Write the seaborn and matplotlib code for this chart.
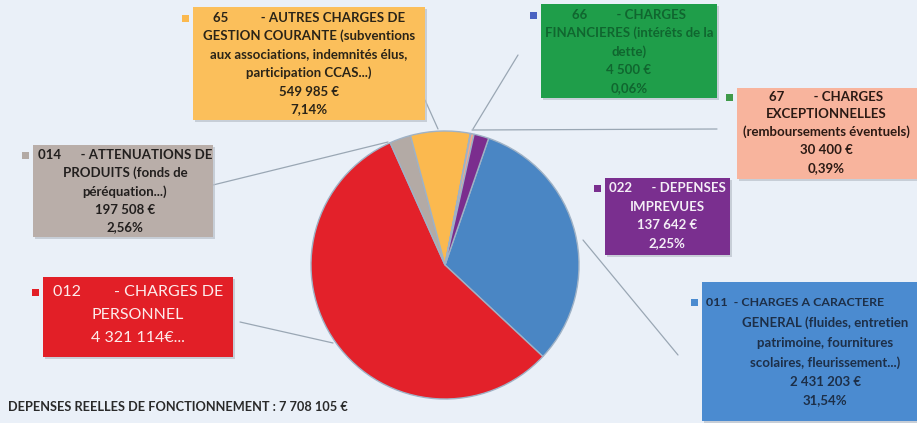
import matplotlib
matplotlib.use("Agg")
import matplotlib.pyplot as plt
import seaborn as sns
from matplotlib.patches import Rectangle

# ---------------- data ----------------
codes = ["011", "012", "014", "65", "66", "67", "022"]
amounts = [2431203, 4321114, 197508, 549985, 4500, 30400, 137642]
amount_labels = ["2 431 203 €", "4 321 114€...", "197 508 €", "549 985 €",
                 "4 500 €", "30 400 €", "137 642 €"]
pct_labels = ["31,54%", "", "2,56%", "7,14%", "0,06%", "0,39%", "2,25%"]
label_lines = [
    ["- CHARGES A CARACTERE", "GENERAL (fluides, entretien", "patrimoine, fournitures",
     "scolaires, fleurissement...)"],
    ["- CHARGES DE", "PERSONNEL"],
    ["- ATTENUATIONS DE", "PRODUITS (fonds de", "péréquation...)"],
    ["- AUTRES CHARGES DE", "GESTION COURANTE (subventions", "aux associations, indemnités élus,",
     "participation CCAS...)"],
    ["- CHARGES", "FINANCIERES (intérêts de la", "dette)"],
    ["- CHARGES", "EXCEPTIONNELLES", "(remboursements éventuels)"],
    ["- DEPENSES", "IMPREVUES"],
]
slice_colors = ["#4a86c4", "#e3212a", "#b3aaa5", "#fbb94f", "#1f9b47", "#f6a98a", "#7b2d8e"]
total_label = "DEPENSES REELLES DE FONCTIONNEMENT : 7 708 105 €"

# ---------------- layout (pixel coords, y from top) ----------------
W, H = 917, 423
box_rect = {  # x0, y0, x1, y1
    "011": (702, 282, 930, 421),
    "012": (43, 277, 233, 357),
    "014": (33, 145, 213, 237),
    "65": (193, 7, 425, 120),
    "66": (541, 4, 717, 98),
    "67": (737, 88, 930, 179),
    "022": (605, 178, 730, 255),
}
box_colors = {"011": "#4b8bd0", "012": "#e21f27", "014": "#b9aea9", "65": "#fbbf5b",
              "66": "#1f9e4a", "67": "#f8b49d", "022": "#7a2f8f"}
marker_colors = {"011": "#4b8bd0", "012": "#e21f27", "014": "#b3aaa5", "65": "#fbb94f",
                 "66": "#4a62c2", "67": "#3f9a4a", "022": "#7a2f8f"}
text_colors = {"011": "#1d2f48", "012": "#fdecec", "014": "#221f1e", "65": "#2a2418",
               "66": "#10662f", "67": "#2b1a14", "022": "#f4eef6"}
line_y = {
    "011": [302, 323, 343, 363, 382, 400],
    "012": [292, 315, 338],
    "014": [155, 173, 192, 210, 227],
    "65": [18, 36, 54, 73, 92, 109],
    "66": [15, 33, 52, 70, 88],
    "67": [97, 114, 132, 150, 168],
    "022": [188, 207, 225, 243],
}
center_x = {"011": 825, "012": 138, "014": 125, "65": 309, "66": 629, "67": 826, "022": 667}
font_size = {"011": 9.5, "012": 11.5, "014": 9.5, "65": 9.5, "66": 9.5, "67": 9.5, "022": 9.5}
font_weight = {"011": "bold", "012": "normal", "014": "bold", "65": "bold", "66": "bold",
               "67": "bold", "022": "bold"}
code_gap = {"011": "  ", "012": "        ", "014": "      ", "65": "          ",
            "66": "         ", "67": "         ", "022": "      "}

leaders = {  # (box point), (pie point)
    "65": ((425, 100), (438, 129)),
    "66": ((518, 55), (473, 129)),
    "67": ((717, 129), (472, 130)),
    "014": ((213, 185), (388, 142)),
    "012": ((240, 322), (333, 343)),
    "011": ((678, 355), (583, 240)),
}

def Y(y):
    return H - y

sns.set_theme(style="white")
plt.rcParams["font.family"] = ["Lato", "DejaVu Sans"]

fig = plt.figure(figsize=(W / 100, H / 100), dpi=100)
bg = "#eaf0f8"
fig.patch.set_facecolor(bg)
ax = fig.add_axes([0, 0, 1, 1])
ax.set_facecolor(bg)

palette = sns.color_palette(slice_colors)
ax.pie(amounts, colors=palette, startangle=71, counterclock=False,
       center=(445, Y(265)), radius=134,
       wedgeprops=dict(edgecolor="#9fb2c6", linewidth=1.0))

# leader lines
for code, (p0, p1) in leaders.items():
    ax.plot([p0[0], p1[0]], [Y(p0[1]), Y(p1[1])], color="#9aa7b4", lw=0.9,
            zorder=1, solid_capstyle="round")

# boxes and texts
for i, code in enumerate(codes):
    x0, y0, x1, y1 = box_rect[code]
    ax.add_patch(Rectangle((x0 + 2, Y(y1) - 2), x1 - x0, y1 - y0, facecolor="#b9c0c9",
                           edgecolor="none", zorder=2, alpha=0.7))
    ax.add_patch(Rectangle((x0, Y(y1)), x1 - x0, y1 - y0, facecolor=box_colors[code],
                           edgecolor="none", zorder=3))
    ax.add_patch(Rectangle((x0 - 11, Y(line_y[code][0]) - 3.5), 7, 7,
                           facecolor=marker_colors[code], edgecolor="none", zorder=3))
    lines = [code + code_gap[code] + label_lines[i][0]] + label_lines[i][1:]
    lines.append(amount_labels[i])
    if pct_labels[i]:
        lines.append(pct_labels[i])
    for k, (txt, yy) in enumerate(zip(lines, line_y[code])):
        if code == "011" and k == 0:
            ax.text(x0 + 4, Y(yy), txt, ha="left", va="center", fontsize=8.9,
                    fontweight="bold", color=text_colors[code], zorder=4)
            continue
        ax.text(center_x[code], Y(yy), txt, ha="center", va="center",
                fontsize=font_size[code], fontweight=font_weight[code],
                color=text_colors[code], zorder=4)

ax.text(8, Y(407), total_label, ha="left", va="center", fontsize=9.2,
        fontweight="bold", color="#2a2a2a", zorder=4)

ax.set_xlim(0, W)
ax.set_ylim(0, H)
ax.set_aspect("auto")
ax.axis("off")

fig.savefig("out.png", dpi=100, facecolor=bg)
